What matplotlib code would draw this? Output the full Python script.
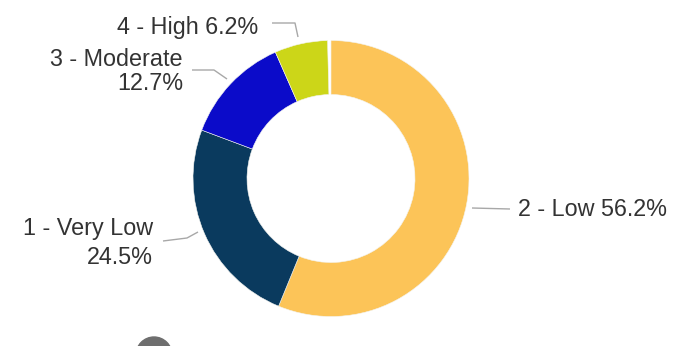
import matplotlib
matplotlib.use("Agg")
import matplotlib.pyplot as plt
from matplotlib.patches import Circle

# Risk level distribution (percent), drawn clockwise from 12 o'clock
categories = ["2 - Low", "1 - Very Low", "3 - Moderate", "4 - High"]
shares = [56.2, 24.5, 12.7, 6.2]
colors = ["#FCC458", "#0A3A5E", "#0B0BC9", "#CCD618"]

W, H = 674, 346
fig = plt.figure(figsize=(W / 100, H / 100), dpi=100)
ax = fig.add_axes([0, 0, 1, 1])


def py(y):
    """Convert a top-down pixel row to the axes' bottom-up coordinate."""
    return H - y


cx, cy, r_out, r_in = 331, 178.5, 138, 84

ax.pie([s / 100 for s in shares], colors=colors, radius=r_out,
       center=(cx, py(cy)), startangle=90, counterclock=False,
       normalize=False, frame=True,
       wedgeprops=dict(width=r_out - r_in, edgecolor="#F4F4F0", linewidth=0.4))

ax.set_xlim(0, W)
ax.set_ylim(0, H)
ax.set_aspect("equal")
ax.axis("off")

font = dict(family=["Liberation Sans", "DejaVu Sans"], fontsize=16.8,
            color="#333333")
line_kw = dict(color="#A8A8A8", linewidth=1.0, solid_capstyle="butt")

# Leader lines
ax.plot([472, 510], [py(208), py(209)], **line_kw)
ax.plot([163, 187, 198], [py(241), py(238), py(232)], **line_kw)
ax.plot([192, 214, 227], [py(70), py(70), py(79)], **line_kw)
ax.plot([272, 295, 298], [py(23), py(23), py(37)], **line_kw)

# Slice labels
lab = [f"{c} {s:.1f}%" for c, s in zip(categories, shares)]
ax.text(518, py(216), lab[0], ha="left", va="baseline", **font)
ax.text(153, py(235), categories[1], ha="right", va="baseline", **font)
ax.text(153, py(264), f"{shares[1]:.1f}%", ha="right", va="baseline", **font)
ax.text(183, py(66), categories[2], ha="right", va="baseline", **font)
ax.text(183, py(90), f"{shares[2]:.1f}%", ha="right", va="baseline", **font)
ax.text(258, py(34), lab[3], ha="right", va="baseline", **font)

# Partially visible control button at the bottom edge
ax.add_patch(Circle((154, py(355)), 18, color="#6E6E6E", zorder=3))

fig.savefig("out.png", dpi=100)
